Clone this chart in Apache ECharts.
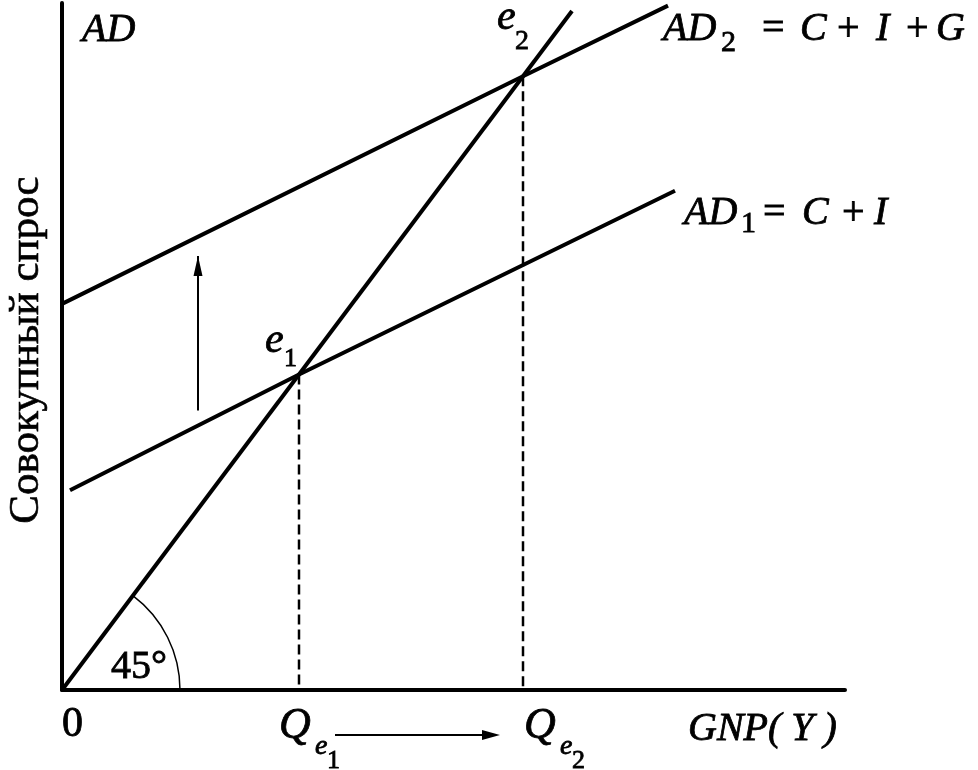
<!DOCTYPE html>
<html>
<head>
<meta charset="utf-8">
<script src="https://cdn.jsdelivr.net/npm/echarts@6/dist/echarts.min.js"></script>
<style>html,body{margin:0;padding:0;background:#fff;}#c{width:978px;height:770px;}</style>
</head>
<body>
<div id="c"></div>
<script>
// ---- data (in model units: 45-degree line is y = x) ----
const xRange = [0, 783];
const yRange = [0, 516];
const line45 = [[0, 0], [510, 510]];
const ad1 = [[8, 150], [237, 237], [613, 375]];
const ad2 = [[0, 290], [461, 461], [606, 514]];
const e1 = [237, 237];
const e2 = [461, 461];
const shiftArrow = [[136, 210], [136, 326]];
const yLabel = 'Совокупный спрос';

const chart = echarts.init(document.getElementById('c'), null, {renderer: 'canvas'});
const black = '#000';
const FONT = '"Liberation Serif", "Times New Roman", serif';

const axisCommon = {
  type: 'value', splitLine: {show: false}, axisTick: {show: false},
  axisLabel: {show: false}, axisLine: {show: true, lineStyle: {color: black, width: 4}}
};

chart.setOption({
  animation: false,
  backgroundColor: '#fff',
  grid: {left: 62, right: 133, top: 3, bottom: 80},
  xAxis: Object.assign({min: xRange[0], max: xRange[1]}, axisCommon),
  yAxis: Object.assign({min: yRange[0], max: yRange[1]}, axisCommon),
  series: [
    {type: 'line', data: line45, showSymbol: false, lineStyle: {color: black, width: 4}, clip: false},
    {type: 'line', data: ad1, showSymbol: false, lineStyle: {color: black, width: 4}, clip: false},
    {type: 'line', data: ad2, showSymbol: false, lineStyle: {color: black, width: 4}, clip: false},
    {type: 'line', data: [e1, [e1[0], 0]], showSymbol: false,
     lineStyle: {color: black, width: 2.5, type: [10, 5]}},
    {type: 'line', data: [e2, [e2[0], 0]], showSymbol: false,
     lineStyle: {color: black, width: 2.5, type: [10, 5]}},
    {type: 'line', data: [
        {value: shiftArrow[0], symbol: 'none'},
        {value: shiftArrow[1], symbol: 'triangle', symbolSize: [9, 20], symbolOffset: [0, 10]}
      ], showSymbol: true, lineStyle: {color: black, width: 2}, itemStyle: {color: black}},
    {type: 'custom', clip: false, data: [[0, 0]],
     renderItem: function (params, api) {
       const o = api.coord([0, 0]);
       const p = api.coord(line45[1]);
       const ang = Math.atan2(p[1] - o[1], p[0] - o[0]);
       return {type: 'arc', shape: {cx: o[0], cy: o[1], r: 118, startAngle: ang, endAngle: 0, clockwise: true},
               style: {stroke: black, fill: null, lineWidth: 1.5}};
     }}
  ]
});

function t(x, y, s, size, italic, bold, extra) {
  return Object.assign({
    type: 'text', x: x, y: y, z: 10,
    style: {text: s, font: (italic ? 'italic ' : '') + (bold ? 'bold ' : '') + size + 'px ' + FONT, fill: black,
            align: 'left', verticalAlign: 'middle', stroke: black, lineWidth: 0.8}
  }, extra || {});
}

const g = [];
// axis title top-left
g.push(t(82, 30, 'AD', 40, true));
// AD2 = C + I + G
g.push(t(663, 29, 'AD', 40, true));
g.push(t(721, 43, '2', 30, false));
g.push(t(762, 29, '=', 40, false));
g.push(t(800, 29, 'C', 40, true));
g.push(t(837, 29, '+', 40, false));
g.push(t(876, 29, 'I', 40, true));
g.push(t(906, 29, '+', 40, false));
g.push(t(936, 29, 'G', 40, true));
// AD1 = C + I
g.push(t(684, 213, 'AD', 40, true));
g.push(t(741, 224, '1', 30, false));
g.push(t(763, 213, '=', 40, false));
g.push(t(802, 213, 'C', 40, true));
g.push(t(842, 213, '+', 40, false));
g.push(t(874, 213, 'I', 40, true));
// e2, e1
g.push(t(497, 18, 'e', 42, true));
g.push(t(515, 42, '2', 28, false));
g.push(t(265, 341, 'e', 42, true));
g.push(t(284, 359, '1', 26, false));
// origin, 45°
g.push(t(62, 725, '0', 42, false));
g.push(t(111, 667, '45°', 40, false));
// Q labels
g.push(t(279, 726, 'Q', 44, true));
g.push(t(315, 747, 'e', 28, true));
g.push(t(327, 761, '1', 26, false));
g.push(t(524, 726, 'Q', 44, true));
g.push(t(560, 747, 'e', 28, true));
g.push(t(572, 761, '2', 26, false));
// GNP(Y)
g.push(t(688, 729, 'GNP( Y )', 40, true));
// y label
g.push(t(27, 350, yLabel, 43, false, false, {rotation: Math.PI / 2,
  style: {text: yLabel, font: '43px ' + FONT, fill: black, align: 'center', verticalAlign: 'middle', stroke: black, lineWidth: 0.6}}));
// horizontal arrow Qe1 -> Qe2
const ax0 = 335, ax1 = 500, ay = 735;
g.push({type: 'line', z: 10, shape: {x1: ax0, y1: ay, x2: ax1 - 12, y2: ay}, style: {stroke: black, lineWidth: 2}});
g.push({type: 'polygon', z: 10, shape: {points: [[ax1, ay], [ax1 - 18, ay - 5], [ax1 - 18, ay + 5]]}, style: {fill: black}});

chart.setOption({graphic: {elements: g}});
</script>
</body>
</html>
